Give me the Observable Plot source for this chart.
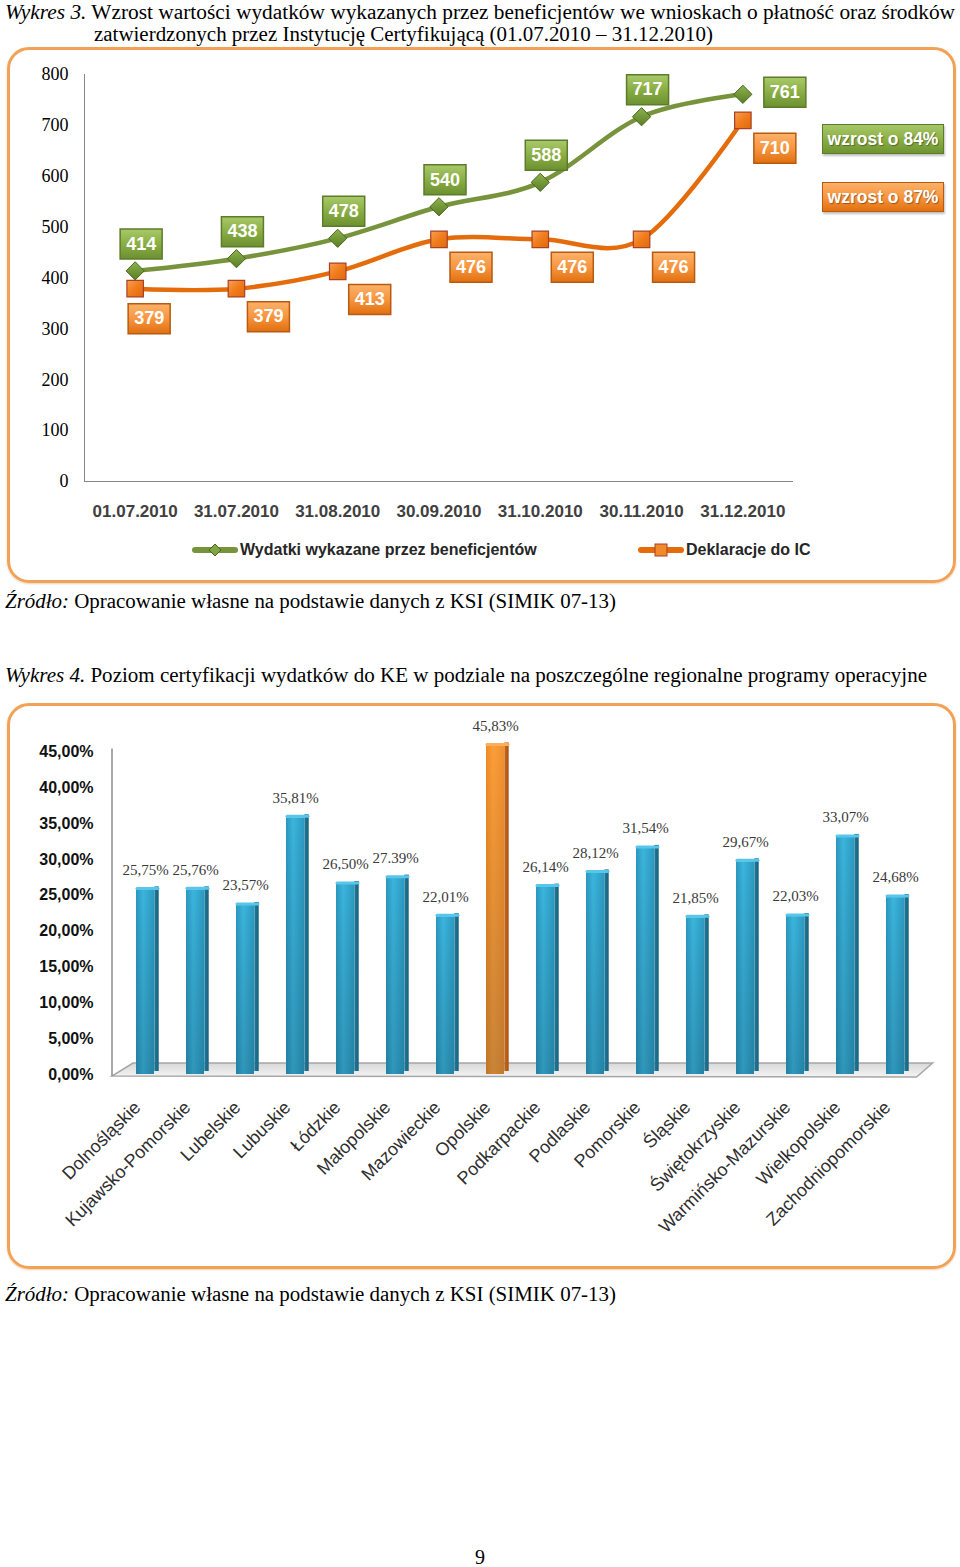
<!DOCTYPE html>
<html><head><meta charset="utf-8">
<script src="https://cdn.jsdelivr.net/npm/d3@7"></script>
<script src="https://cdn.jsdelivr.net/npm/@observablehq/plot@0.6"></script>
<style>
body{margin:0;background:#fff;}
#page{position:relative;width:960px;height:1567px;overflow:hidden;}
.frame{position:absolute;border:3px solid #F2A257;border-radius:22px;box-sizing:border-box;box-shadow:0 1px 2px rgba(200,120,40,0.35);}
.plotwrap{position:absolute;left:0;}
.legend{position:absolute;font-family:"Liberation Sans",Arial,sans-serif;font-weight:bold;font-size:16px;color:#262626;white-space:nowrap;display:flex;align-items:center;}
.legend svg{margin-right:2px;}
.growth{position:absolute;width:122px;height:30px;box-sizing:border-box;color:#fff;font-family:"Liberation Sans",Arial,sans-serif;font-weight:bold;font-size:17.5px;line-height:28px;text-align:center;text-shadow:1px 1px 1px rgba(0,0,0,0.35);box-shadow:1px 2px 2px rgba(0,0,0,0.25);}
#texts{position:absolute;left:0;top:0;}
</style>
</head><body>
<div id="page">
  <svg id="texts" width="960" height="1567"></svg>
  <div class="plotwrap" id="chart1" style="top:47px"></div>
  <div class="plotwrap" id="chart2" style="top:703px"></div>
  <div class="frame" style="left:7px;top:47px;width:949px;height:536px"></div>
  <div class="frame" style="left:7px;top:703px;width:949px;height:566px"></div>
  <div class="legend" id="leg1" style="left:192px;top:541px"></div>
  <div class="legend" id="leg2" style="left:638px;top:541px"></div>
  <div class="growth" id="gr1" style="left:822px;top:124px;background:linear-gradient(#A6C768,#8CB046 50%,#6F9330);border:1px solid #5C7C2A"></div>
  <div class="growth" id="gr2" style="left:822px;top:182px;background:linear-gradient(#FBB068,#F7963F 50%,#E2700F);border:1px solid #B85A10"></div>
</div>
<script>
// ---------- data ----------
const dates = ["01.07.2010","31.07.2010","31.08.2010","30.09.2010","31.10.2010","30.11.2010","31.12.2010"];
const beneficiaries = [414,438,478,540,588,717,761];
const declarations = [379,379,413,476,476,476,710];
const seriesNames = ["Wydatki wykazane przez beneficjentów","Deklaracje do IC"];
const growthLabels = ["wzrost o 84%","wzrost o 87%"];
const yTicks1 = [0,100,200,300,400,500,600,700,800];

const regions = ["Dolnośląskie","Kujawsko-Pomorskie","Lubelskie","Lubuskie","Łódzkie","Małopolskie","Mazowieckie","Opolskie","Podkarpackie","Podlaskie","Pomorskie","Śląskie","Świętokrzyskie","Warmińsko-Mazurskie","Wielkopolskie","Zachodniopomorskie"];
const certLevel = [25.75,25.76,23.57,35.81,26.50,27.39,22.01,45.83,26.14,28.12,31.54,21.85,29.67,22.03,33.07,24.68];
const certLabels = ["25,75%","25,76%","23,57%","35,81%","26,50%","27.39%","22,01%","45,83%","26,14%","28,12%","31,54%","21,85%","29,67%","22,03%","33,07%","24,68%"];
const yTicks2 = [0,5,10,15,20,25,30,35,40,45];
const highlighted = "Opolskie";

// ---------- page texts ----------
const T = d3.select("#texts");
function line(x, y, len, parts, anchor){
  const t = T.append("text").attr("x", x).attr("y", y)
    .attr("font-family", "'Liberation Serif','Times New Roman',serif").attr("font-size", 20).attr("fill", "#000");
  if (len) t.attr("textLength", len).attr("lengthAdjust", "spacingAndGlyphs");
  if (anchor) t.attr("text-anchor", anchor);
  parts.forEach(([s, it]) => t.append("tspan").attr("font-style", it ? "italic" : null).text(s));
}
line(5, 19, 950, [["Wykres 3.", 1], [" Wzrost wartości wydatków wykazanych przez beneficjentów we wnioskach o płatność oraz środków"]]);
line(94, 41, 619, [["zatwierdzonych przez Instytucję Certyfikującą (01.07.2010 – 31.12.2010)"]]);
line(5, 608, 611, [["Źródło:", 1], [" Opracowanie własne na podstawie danych z KSI (SIMIK 07-13)"]]);
line(5, 682, 922, [["Wykres 4.", 1], [" Poziom certyfikacji wydatków do KE w podziale na poszczególne regionalne programy operacyjne"]]);
line(5, 1301, 611, [["Źródło:", 1], [" Opracowanie własne na podstawie danych z KSI (SIMIK 07-13)"]]);
line(480, 1564, null, [["9"]], "middle");

// ---------- helpers ----------
function addDefs(svg, html){
  const defs = document.createElementNS("http://www.w3.org/2000/svg", "defs");
  defs.innerHTML = html;
  svg.insertBefore(defs, svg.firstChild);
}
const boxSymbol = {draw(ctx){ ctx.moveTo(-21,-15); ctx.lineTo(21,-15); ctx.lineTo(21,15); ctx.lineTo(-21,15); ctx.closePath(); }};
const sans = "'Liberation Sans',Arial,sans-serif";
const idx = (d, i) => i;

// ---------- chart 1 ----------
const c1 = Plot.plot({
  width: 960, height: 480,
  marginTop: 27, marginBottom: 46, marginLeft: 84, marginRight: 167,
  style: {background: "transparent", fontFamily: "'Liberation Serif',serif", fontSize: "18px", color: "#000", overflow: "visible"},
  x: {domain: [-0.5, dates.length - 0.5], ticks: d3.range(-0.5, dates.length, 1), tickFormat: () => "", tickSize: 6, label: null},
  y: {domain: [0, 800], ticks: yTicks1, tickSize: 6, tickPadding: 10, label: null},
  marks: [
    Plot.ruleY([0], {stroke: "#868686"}),
    Plot.ruleX([-0.5], {stroke: "#868686"}),
    Plot.text(dates, {x: idx, text: d => d, frameAnchor: "bottom", dy: 35, fontFamily: sans, fontWeight: "bold", fontSize: 17, fill: "#404040"}),
    Plot.line(beneficiaries, {x: idx, y: d => d, curve: "cardinal", stroke: "#77933C", strokeWidth: 4.5}),
    Plot.line(declarations, {x: idx, y: d => d, curve: "cardinal", stroke: "#E46C0A", strokeWidth: 4.5}),
    Plot.dot(beneficiaries, {x: idx, y: d => d, symbol: "diamond2", r: 8.2, fill: "url(#gDiamond)", stroke: "#4A6520", strokeWidth: 1}),
    Plot.dot(declarations, {x: idx, y: d => d, symbol: "square", r: 9.3, fill: "url(#oSquare)", stroke: "#A8402A", strokeWidth: 1.2}),
    // green labels
    Plot.dot(beneficiaries, {x: idx, y: d => d, filter: (d, i) => i < 6, symbol: boxSymbol, dx: 6, dy: -27, fill: "url(#gBox)", stroke: "#5C7C2A"}),
    Plot.dot(beneficiaries, {x: idx, y: d => d, filter: (d, i) => i === 6, symbol: boxSymbol, dx: 42, dy: -2, fill: "url(#gBox)", stroke: "#5C7C2A"}),
    Plot.text(beneficiaries, {x: idx, y: d => d, filter: (d, i) => i < 6, text: d => d, dx: 6, dy: -27, fill: "#fff", fontFamily: sans, fontWeight: "bold", fontSize: 18}),
    Plot.text(beneficiaries, {x: idx, y: d => d, filter: (d, i) => i === 6, text: d => d, dx: 42, dy: -2, fill: "#fff", fontFamily: sans, fontWeight: "bold", fontSize: 18}),
    // orange labels
    Plot.dot(declarations, {x: idx, y: d => d, filter: (d, i) => i === 0, symbol: boxSymbol, dx: 14, dy: 30, fill: "url(#oBox)", stroke: "#B85A10"}),
    Plot.dot(declarations, {x: idx, y: d => d, filter: (d, i) => i > 0, symbol: boxSymbol, dx: 32, dy: 28, fill: "url(#oBox)", stroke: "#B85A10"}),
    Plot.text(declarations, {x: idx, y: d => d, filter: (d, i) => i === 0, text: d => d, dx: 14, dy: 30, fill: "#fff", fontFamily: sans, fontWeight: "bold", fontSize: 18}),
    Plot.text(declarations, {x: idx, y: d => d, filter: (d, i) => i > 0, text: d => d, dx: 32, dy: 28, fill: "#fff", fontFamily: sans, fontWeight: "bold", fontSize: 18})
  ]
});
addDefs(c1, `
  <linearGradient id="gDiamond" x1="0" y1="0" x2="0" y2="1"><stop offset="0" stop-color="#8DB24C"/><stop offset="1" stop-color="#5A7E26"/></linearGradient>
  <linearGradient id="oSquare" x1="0" y1="0" x2="1" y2="1"><stop offset="0" stop-color="#F9A050"/><stop offset="0.5" stop-color="#F07C1C"/><stop offset="1" stop-color="#E06A0C"/></linearGradient>
  <linearGradient id="gBox" x1="0" y1="0" x2="0" y2="1"><stop offset="0" stop-color="#A8C96A"/><stop offset="0.5" stop-color="#8AAE44"/><stop offset="1" stop-color="#6C9030"/></linearGradient>
  <linearGradient id="oBox" x1="0" y1="0" x2="0" y2="1"><stop offset="0" stop-color="#FBB26A"/><stop offset="0.5" stop-color="#F79540"/><stop offset="1" stop-color="#E0700F"/></linearGradient>`);
d3.select(c1).selectAll('[aria-label^="y-axis"] line, [aria-label^="x-axis"] line').attr("stroke", "#868686");
d3.select(c1).selectAll('[aria-label^="y-axis"], [aria-label^="x-axis"]').attr("stroke", null);
document.getElementById("chart1").appendChild(c1);

// legend 1
function legendSwatch(color, marker){
  const s = d3.create("svg").attr("width", 46).attr("height", 16);
  s.append("line").attr("x1", 3).attr("x2", 43).attr("y1", 8).attr("y2", 8).attr("stroke", color).attr("stroke-width", 6).attr("stroke-linecap", "round");
  if (marker === "diamond") s.append("path").attr("d", "M23,2 L29,8 L23,14 L17,8Z").attr("fill", "#7FA442").attr("stroke", "#4A6520");
  else s.append("rect").attr("x", 17).attr("y", 2).attr("width", 12).attr("height", 12).attr("fill", "#F28A2A").attr("stroke", "#A8402A");
  return s.node();
}
const leg1 = document.getElementById("leg1");
leg1.appendChild(legendSwatch("#77933C", "diamond"));
leg1.appendChild(document.createTextNode(seriesNames[0]));
const leg2 = document.getElementById("leg2");
leg2.appendChild(legendSwatch("#E46C0A", "square"));
leg2.appendChild(document.createTextNode(seriesNames[1]));
document.getElementById("gr1").textContent = growthLabels[0];
document.getElementById("gr2").textContent = growthLabels[1];

// ---------- chart 2 ----------
const rows = regions.map((name, i) => ({name, value: certLevel[i], label: certLabels[i]}));
const isHi = d => d.name === highlighted;
const notHi = d => d.name !== highlighted;
const c2 = Plot.plot({
  width: 960, height: 565,
  marginTop: 48.4, marginBottom: 194, marginLeft: 118, marginRight: 37.4,
  style: {background: "transparent", fontFamily: sans, fontSize: "16px", color: "#111", overflow: "visible"},
  x: {domain: regions, padding: 0, tickRotate: -45, tickSize: 0, tickPadding: 30, label: null},
  y: {domain: [0, 45], ticks: yTicks2, tickFormat: d => d.toFixed(2).replace(".", ",") + "%", tickSize: 0, tickPadding: 25, label: null},
  marks: [
    // side faces
    Plot.barY(rows, {filter: notHi, x: "name", y: "value", insetLeft: 34.3, insetRight: 11.3, dy: -3, fill: "url(#bSide)"}),
    Plot.barY(rows, {filter: isHi, x: "name", y: "value", insetLeft: 34.3, insetRight: 11.3, dy: -3, fill: "url(#oSide)"}),
    // front faces
    Plot.barY(rows, {filter: notHi, x: "name", y: "value", insetLeft: 16, insetRight: 16, fill: "url(#bFront)"}),
    Plot.barY(rows, {filter: isHi, x: "name", y: "value", insetLeft: 16, insetRight: 16, fill: "url(#oFront)"}),
    Plot.barY(rows, {x: "name", y: "value", insetLeft: 16, insetRight: 16, fill: "url(#shade)"}),
    // top caps
    Plot.tickY(rows, {filter: notHi, x: "name", y: "value", insetLeft: 17, insetRight: 12, dy: -1.5, stroke: "#58C6EA", strokeWidth: 3, strokeLinecap: "round"}),
    Plot.tickY(rows, {filter: isHi, x: "name", y: "value", insetLeft: 17, insetRight: 12, dy: -1.5, stroke: "#FBAE5C", strokeWidth: 3, strokeLinecap: "round"}),
    // value labels
    Plot.text(rows, {x: "name", y: "value", text: "label", dy: -20, fill: "#3A3A3A", fontFamily: "'Liberation Serif',serif", fontSize: 15})
  ]
});
addDefs(c2, `
  <linearGradient id="bFront" x1="0" y1="0" x2="1" y2="0"><stop offset="0" stop-color="#2A97BF"/><stop offset="0.4" stop-color="#3BB5DD"/><stop offset="1" stop-color="#2D9AC2"/></linearGradient>
  <linearGradient id="bSide" x1="0" y1="0" x2="1" y2="0"><stop offset="0" stop-color="#1F7B9B"/><stop offset="1" stop-color="#17617C"/></linearGradient>
  <linearGradient id="oFront" x1="0" y1="0" x2="1" y2="0"><stop offset="0" stop-color="#F08A24"/><stop offset="0.4" stop-color="#FB9E3A"/><stop offset="1" stop-color="#F0902E"/></linearGradient>
  <linearGradient id="oSide" x1="0" y1="0" x2="1" y2="0"><stop offset="0" stop-color="#C8681C"/><stop offset="1" stop-color="#A85414"/></linearGradient>
  <linearGradient id="shade" x1="0" y1="0" x2="0" y2="1"><stop offset="0" stop-color="#000" stop-opacity="0"/><stop offset="1" stop-color="#002030" stop-opacity="0.2"/></linearGradient>
  <linearGradient id="floor" x1="0" y1="0" x2="0" y2="1"><stop offset="0" stop-color="#D8D8D8"/><stop offset="1" stop-color="#F4F4F4"/></linearGradient>`);
const sel2 = d3.select(c2);
sel2.selectAll('[aria-label^="x-axis"] text').attr("font-size", 18).attr("fill", "#2E2E2E");
sel2.selectAll('[aria-label^="y-axis"] text').attr("font-weight", "bold").attr("fill", "#111");
sel2.selectAll('[aria-label^="x-axis"]').each(function(){
  const tr = this.getAttribute("transform") || "";
  this.setAttribute("transform", "translate(-8,0) " + tr);
});
// floor + axis wall line drawn from the plot's own scales
const xs = c2.scale("x"), ys = c2.scale("y");
const r0 = xs.range[0], r1 = xs.range[1], y0 = ys.apply(0), yTop = ys.apply(d3.max(yTicks2));
const floorG = document.createElementNS("http://www.w3.org/2000/svg", "g");
const fs = d3.select(floorG);
fs.append("polygon").attr("points", [[r0 - 6, y0 + 2], [r1 - 6, y0 + 3], [r1 + 10, y0 - 11], [r0 + 15, y0 - 11]].map(p => p.join(",")).join(" "))
  .attr("fill", "url(#floor)").attr("stroke", "#A6A6A6").attr("stroke-width", 1.5);
fs.append("line").attr("x1", r0 - 6).attr("x2", r0 - 6).attr("y1", y0 + 2).attr("y2", yTop - 3).attr("stroke", "#8C8C8C").attr("stroke-width", 1.5);
const firstBar = c2.querySelector('[aria-label="bar"]');
firstBar.parentNode.insertBefore(floorG, firstBar);
document.getElementById("chart2").appendChild(c2);
</script>
</body></html>
